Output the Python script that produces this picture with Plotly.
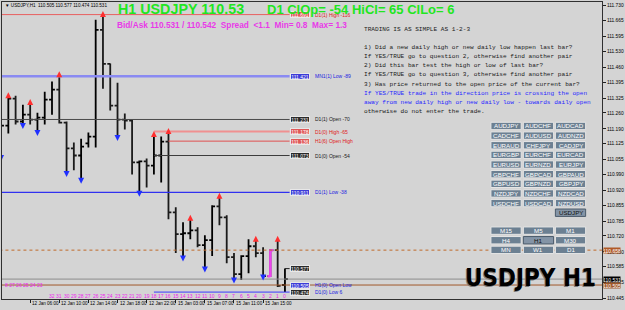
import plotly.graph_objects as go

# ---------------- data ----------------
bar_idx = list(range(39, -1, -1))
bar_open = [111.095, 111.204, 111.322, 111.222, 111.252, 111.230, 111.239, 111.318, 111.362, 111.217,
            111.104, 111.073, 111.126, 111.156, 111.624, 111.475, 111.292, 111.230, 111.226, 111.043,
            111.047, 111.029, 111.073, 111.134, 110.824, 110.728, 110.732, 110.745, 110.680, 110.702,
            110.850, 110.802, 110.627, 110.553, 110.632, 110.675, 110.645, 110.544, 110.658, 110.505]
bar_high = [111.292, 111.335, 111.335, 111.296, 111.305, 111.261, 111.353, 111.397, 111.427, 111.222,
            111.130, 111.147, 111.174, 111.668, 111.691, 111.477, 111.392, 111.257, 111.230, 111.051,
            111.060, 111.165, 111.156, 111.178, 110.846, 110.780, 110.798, 110.758, 110.723, 110.855,
            110.894, 110.811, 110.645, 110.636, 110.706, 110.706, 110.671, 110.662, 110.706, 110.577]
bar_low = [111.064, 111.169, 111.209, 111.204, 111.209, 111.174, 111.209, 111.252, 111.213, 110.994,
           111.008, 110.964, 111.108, 111.108, 111.366, 111.270, 111.152, 111.187, 110.990, 110.907,
           110.933, 110.990, 110.955, 110.793, 110.645, 110.623, 110.706, 110.671, 110.575, 110.632,
           110.767, 110.601, 110.527, 110.527, 110.557, 110.627, 110.540, 110.540, 110.496, 110.474]
bar_close = [111.204, 111.322, 111.222, 111.252, 111.230, 111.239, 111.318, 111.362, 111.217, 111.104,
             111.073, 111.112, 111.156, 111.624, 111.475, 111.292, 111.230, 111.226, 111.043, 111.047,
             111.029, 111.073, 111.134, 110.824, 110.728, 110.732, 110.745, 110.680, 110.702, 110.850,
             110.802, 110.627, 110.553, 110.632, 110.675, 110.645, 110.544, 110.658, 110.501, 110.531]

up_arrow_bars = [38, 35, 31, 25, 18, 16, 13, 9, 4, 1]
down_arrow_bars = [39, 36, 34, 30, 28, 23, 20, 14, 11, 7, 3]
highlight_bar = 2

level_labels = ["D1(1) High -116", "MN1(1) Low -89", "D1(1) Open -70", "D1(0) High -65",
                "H1(6) Open High", "D1(0) Open -54", "D1(1) Low -38", "", "H1(0) Open Low", "D1(0) Low 6"]
level_prices = [111.691, 111.421, 111.231, 111.178, 111.136, 111.073, 110.911, 110.577, 110.505, 110.474]
level_start_bar = [None, None, None, 18, 16, 18, None, 0, None, 18]

axis_line_prices = [110.658, 110.531, 110.505]

ytick_labels = ["111.730", "111.665", "111.595", "111.530", "111.460", "111.395", "111.325", "111.260",
                "111.190", "111.125", "111.055", "110.990", "110.920", "110.855", "110.785", "110.720",
                "110.650", "110.585", "110.515", "110.445"]
xtick_bars = [39, 35, 31, 27, 23, 19, 15, 11, 7, 3]
xtick_labels = ["11 Jan 2018", "12 Jan 06:00", "12 Jan 10:00", "12 Jan 14:00", "12 Jan 18:00",
                "12 Jan 22:00", "15 Jan 03:00", "15 Jan 07:00", "15 Jan 11:00", "15 Jan 15:00"]
counter_bars = list(range(32, -1, -1))

header_text = "\u25bc USDJPY,H1  110.505 110.577 110.474 110.531"
title_left = "H1 USDJPY 110.53"
title_right = "D1 ClOp= -54 HiCl= 65 ClLo= 6"
bidask_text = "Bid/Ask 110.531 / 110.542  Spread  <1.1  Min= 0.8  Max= 1.3"
rules_lines = ["TRADING IS AS SIMPLE AS 1-2-3", "",
               "1) Did a new daily high or new daily low happen last bar?",
               "If YES/TRUE go to question 2, otherwise find another pair",
               "2) Did this bar test the high or low of last bar?",
               "If YES/TRUE go to question 3, otherwise find another pair",
               "3) Has price returned to the open price of the current bar?",
               "If YES/TRUE trade in the direction price is crossing the open",
               "away from new daily high or new daily low - towards daily open",
               "otherwise do not enter the trade."]
rules_blue = [False, False, False, False, False, False, False, True, True, False]

pair_rows = [["AUDJPY", "AUDCHF", "AUDCAD"], ["CADCHF", "AUDUSD", "AUDNZD"], ["EURAUD", "CHFJPY", "CADJPY"],
             ["EURGBP", "EURCHF", "EURCAD"], ["EURUSD", "EURNZD", "EURJPY"], ["GBPCHF", "GBPCAD", "GBPAUD"],
             ["GBPUSD", "GBPNZD", "GBPJPY"], ["NZDJPY", "NZDCHF", "NZDCAD"], ["USDCHF", "USDCAD", "NZDUSD"],
             [None, None, "USDJPY"]]
tf_rows = [["M15", "M5", "M1"], ["H4", "H1", "M30"], ["MN", "W1", "D1"]]
active_buttons = {"USDJPY", "H1"}

# ---------------- geometry / style ----------------
W, H = 625, 310
PL, PR, PT, PB = 2, 607, 1, 299
BG = "#d4d4d4"
ppu = (298.7 - 4.7) / (111.730 - 110.445)
y_top = 111.730 + (4.7 - PT) / ppu
y_bot = 110.445 - (PB - 298.7) / ppu
BAR0_PX, STEP = 287.3, 7.34
x_left = -(BAR0_PX - PL) / STEP
x_right = (PR - BAR0_PX) / STEP


def fx(px):
    return (px - PL) / (PR - PL)


def fy(py):
    return (PB - py) / (PB - PT)


def px2x(px):
    return (px - BAR0_PX) / STEP


SANS = "Liberation Sans, Arial, sans-serif"
MONO = "Liberation Mono, Courier New, monospace"

fig = go.Figure()
ann = []
shapes = []


def add_text(text, x, y, xref="paper", yref="paper", xanchor="left", size=5, color="#000000",
             family=SANS, weight="normal", **kw):
    d = dict(x=x, y=y, xref=xref, yref=yref, text=text, showarrow=False, xanchor=xanchor, yanchor="middle",
             font=dict(family=family, size=size, color=color, weight=weight))
    d.update(kw)
    ann.append(d)


# price level lines
level_style = [("#e86060", 1, "red"), ("#8a8af2", 2.5, "blue"), ("#4a4a4a", 1, "dark"),
               ("#f09090", 2, "red"), ("#e05050", 1, "red"), ("#3c3c3c", 1, "dark"),
               ("#3030f0", 1.2, "blue"), ("#202020", 1, "dark"), (None, 1, "blue"), ("#3a3aff", 1, "dark")]
box_fill = {"red": "#e05858", "blue": "#3c3cd8", "dark": "#2a2a2a"}
text_col = {"red": "#e02020", "blue": "#2020e0", "dark": "#202020"}
box_x_px = 292
for i, p in enumerate(level_prices):
    col, wid, kind = level_style[i]
    sb = level_start_bar[i]
    if col is not None:
        x0 = x_left - 2 if sb is None else -sb
        fig.add_trace(go.Scatter(x=[x0, px2x(box_x_px)], y=[p, p], mode="lines",
                                 line=dict(color=col, width=wid), hoverinfo="skip", showlegend=False))

# lines running to the price axis
axis_styles = [("#c06a2a", "dot", 1, "#b05a28"), ("#8c8c8c", "solid", 1, "#000000"),
               ("#a0582a", "solid", 1, "#a0582a")]
for p, (c, d, w_, _) in zip(axis_line_prices, axis_styles):
    fig.add_trace(go.Scatter(x=[x_left - 2, x_right + 2], y=[p, p], mode="lines",
                             line=dict(color=c, width=w_, dash=d), hoverinfo="skip", showlegend=False))

# bars
xs = [-i for i in bar_idx]
fig.add_trace(go.Ohlc(x=xs, open=bar_open, high=bar_high, low=bar_low, close=bar_close,
                      increasing_line_color="#000000", decreasing_line_color="#1a1a1a",
                      line=dict(width=1.8), tickwidth=0.4, hoverinfo="skip", showlegend=False))
k = bar_idx.index(highlight_bar)
fig.add_trace(go.Ohlc(x=[xs[k]], open=[bar_open[k]], high=[bar_high[k]], low=[bar_low[k]], close=[bar_close[k]],
                      increasing_line_color="#ee44ee", decreasing_line_color="#ee44ee",
                      line=dict(width=2.5), tickwidth=0.4, hoverinfo="skip", showlegend=False))

# arrows
off = 3.5 / ppu
ux = [-b for b in up_arrow_bars]
uy = [bar_high[bar_idx.index(b)] + off for b in up_arrow_bars]
dx = [-b for b in down_arrow_bars]
dy = [bar_low[bar_idx.index(b)] - off for b in down_arrow_bars]
fig.add_trace(go.Scatter(x=ux, y=uy, mode="markers", marker=dict(symbol="arrow-up", size=6, color="#ff3030"),
                         hoverinfo="skip", showlegend=False))
fig.add_trace(go.Scatter(x=dx, y=dy, mode="markers", marker=dict(symbol="arrow-down", size=6, color="#2030ff"),
                         hoverinfo="skip", showlegend=False))

# level boxes + descriptions
for i, p in enumerate(level_prices):
    col, wid, kind = level_style[i]
    lab = level_labels[i]
    bkind = kind
    if lab == "H1(0) Open Low":
        bkind = "blue"
    add_text(f"{p:.3f}", fx(302.5), p, yref="y", xanchor="center", size=5, color="white",
             bgcolor=box_fill[bkind], bordercolor="#e8e8e8", borderwidth=1, borderpad=0, width=18, height=5)
    if lab:
        tkind = "blue" if lab in ("D1(0) Low 6", "H1(0) Open Low") else kind
        add_text(lab, fx(316), p, yref="y", size=5, color=text_col[tkind])

# price-axis boxes
for p, (c, d, w_, fill) in zip(axis_line_prices, axis_styles):
    add_text(f"{p:.3f}", fx(608), p, yref="y", size=5, color="white", bgcolor=fill, borderpad=0,
             width=16, height=5)

# x tick labels
for b, t in zip(xtick_bars, xtick_labels):
    add_text(t, -b, fy(304), xref="x", size=4.6)

# bar counters
for b in counter_bars:
    add_text(str(b), -b, fy(295.5), xref="x", xanchor="center", size=5, color="#ee22ee")
add_text("8 27 26 25 24 23", fx(3), fy(285), size=5, color="#ee22ee")

# header & titles
add_text(header_text, fx(3), fy(5), size=4.6)
add_text(title_left, fx(117), fy(8.5), size=14.3, color="#22e622", weight="bold")
add_text(title_right, fx(267), fy(8.5), size=13.0, color="#22e622", weight="bold")
add_text(bidask_text, fx(116), fy(24), size=8.3, color="#e83ae8", weight="bold")

# rules text
for j, (line, blue) in enumerate(zip(rules_lines, rules_blue)):
    if not line:
        continue
    ypx = 29 if j == 0 else 46.6 + (j - 2) * 9.2
    add_text(line, fx(365), fy(ypx), size=6.1, family=MONO, color="#2828ff" if blue else "#202020")

# buttons
col_px = [495, 527.7, 560]
bw, bh = 30.5, 7.4


def add_button(label, xpx, ypx):
    active = label in active_buttons
    shapes.append(dict(type="rect", xref="paper", yref="paper", x0=fx(xpx), x1=fx(xpx + bw),
                       y0=fy(ypx + bh), y1=fy(ypx), fillcolor="#8494a6" if active else "#6c8092",
                       line=dict(color="#4a5a6a" if active else "#e6e6e6", width=1)))
    add_text(label, fx(xpx + bw / 2), fy(ypx + bh / 2), xanchor="center", size=6.2,
             color="#101010" if active else "#ffffff")


for r, row in enumerate(pair_rows):
    for c, lab in enumerate(row):
        if lab:
            add_button(lab, col_px[c], 121.7 + 9.67 * r)
for r, row in enumerate(tf_rows):
    for c, lab in enumerate(row):
        add_button(lab, col_px[c], 226.7 + 9.65 * r)

# big symbol label
for sx, sy, colr in [(-1.5, -1.5, "#7a7a7a"), (0, 0, "#000000")]:
    add_text("USDJPY H1", fx(535), fy(277.5), xanchor="center", size=24, color=colr, weight="bold",
             family="Liberation Sans Narrow, DejaVu Sans Condensed, Arial Narrow, Liberation Sans, sans-serif",
             xshift=sx, yshift=sy)

fig.update_layout(
    width=W, height=H, margin=dict(l=PL, r=W - PR, t=PT, b=H - PB),
    paper_bgcolor=BG, plot_bgcolor=BG, showlegend=False,
    annotations=ann, shapes=shapes,
    xaxis=dict(range=[x_left, x_right], showgrid=False, zeroline=False, rangeslider=dict(visible=False),
               tickmode="array", tickvals=[-b for b in xtick_bars], ticktext=["" for _ in xtick_bars],
               ticks="outside", ticklen=3, tickcolor="#202020", showline=True, mirror=True,
               linecolor="#303030", linewidth=1, fixedrange=True),
    yaxis=dict(range=[y_bot, y_top], side="right", showgrid=False, zeroline=False,
               tickmode="array", tickvals=[float(t) for t in ytick_labels], ticktext=ytick_labels,
               ticks="outside", ticklen=3, tickcolor="#202020",
               tickfont=dict(family=SANS, size=4.8, color="#000000"),
               showline=True, mirror=True, linecolor="#303030", linewidth=1, fixedrange=True),
)

fig.write_html("out.html")
